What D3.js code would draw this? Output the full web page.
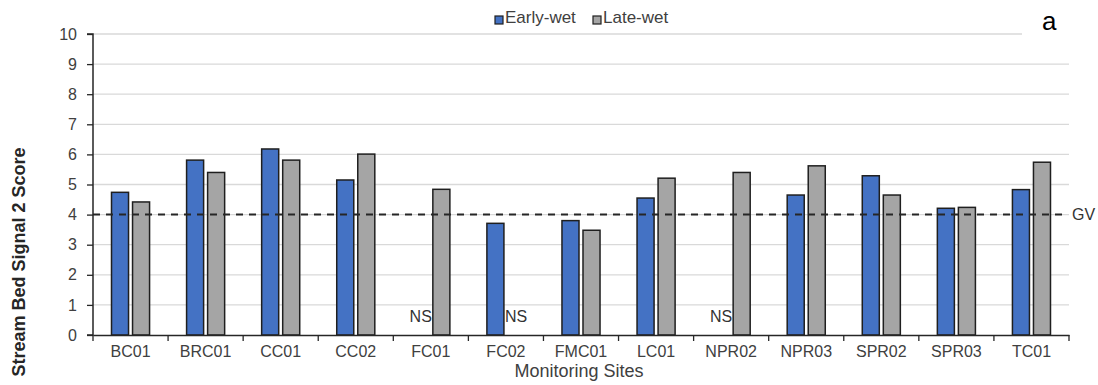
<!DOCTYPE html>
<html>
<head>
<meta charset="utf-8">
<script src="https://cdn.jsdelivr.net/npm/d3@7"></script>
<style>
  body { margin: 0; background: #fff; }
  svg { font-family: "Liberation Sans", Arial, sans-serif; }
</style>
</head>
<body>
<script>
// chart data
var sites = ["BC01", "BRC01", "CC01", "CC02", "FC01", "FC02", "FMC01", "LC01", "NPR02", "NPR03", "SPR02", "SPR03", "TC01"];
var earlyWet = [4.74, 5.81, 6.18, 5.15, null, 3.71, 3.80, 4.55, null, 4.65, 5.29, 4.21, 4.83];
var lateWet = [4.42, 5.40, 5.81, 6.01, 4.84, null, 3.48, 5.21, 5.40, 5.62, 4.65, 4.24, 5.74];
var seriesNames = ["Early-wet", "Late-wet"];
var seriesColors = ["#4472C4", "#A5A5A5"];
var yTicks = [0, 1, 2, 3, 4, 5, 6, 7, 8, 9, 10];
var guideValue = 4;

var W = 1098, H = 385;
var plotLeft = 93, plotRight = 1069, plotTop = 34, plotBottom = 335;

var svg = d3.select("body").append("svg").attr("width", W).attr("height", H);

var x = d3.scaleBand().domain(sites).range([plotLeft, plotRight]).padding(0);
var xi = d3.scaleBand().domain(seriesNames).range([0, x.bandwidth()])
  .paddingInner(0.19).paddingOuter(0.88);
var y = d3.scaleLinear().domain([0, 10]).range([plotBottom, plotTop]);

// gridlines
svg.append("g").selectAll("line").data(yTicks.filter(function (d) { return d > 0; }))
  .enter().append("line")
  .attr("x1", plotLeft).attr("x2", function (d) { return d === 10 ? 1022 : plotRight; })
  .attr("y1", function (d) { return y(d); }).attr("y2", function (d) { return y(d); })
  .style("stroke", "#d9d9d9").style("stroke-width", 1.3);

// bars
var rows = sites.map(function (s, i) {
  return { site: s, vals: [earlyWet[i], lateWet[i]] };
});
var grp = svg.append("g").selectAll("g").data(rows).enter().append("g")
  .attr("transform", function (d) { return "translate(" + x(d.site) + ",0)"; });

grp.selectAll("rect").data(function (d) {
  return d.vals.map(function (v, k) { return { k: k, v: v }; }).filter(function (e) { return e.v !== null; });
}).enter().append("rect")
  .attr("x", function (d) { return xi(seriesNames[d.k]); })
  .attr("width", xi.bandwidth())
  .attr("y", function (d) { return y(d.v); })
  .attr("height", function (d) { return y(0) - y(d.v); })
  .style("fill", function (d) { return seriesColors[d.k]; })
  .style("stroke", "#1f1f1f").style("stroke-width", 1.5);

// NS labels for missing samples
grp.each(function (d) {
  var g = d3.select(this);
  d.vals.forEach(function (v, k) {
    if (v !== null) return;
    var t = g.append("text").attr("y", 322).text("NS")
      .style("font-size", "16px").style("fill", "#333");
    if (k === 0) {
      t.attr("x", xi(seriesNames[1]) - 1).attr("text-anchor", "end");
    } else {
      t.attr("x", xi(seriesNames[0]) + xi.bandwidth() + 1).attr("text-anchor", "start");
    }
  });
});

// axes
var yAxis = svg.append("g").attr("transform", "translate(" + plotLeft + ",0)")
  .call(d3.axisLeft(y).tickValues(yTicks).tickSize(6).tickPadding(10));
var xAxis = svg.append("g").attr("transform", "translate(0," + plotBottom + ")")
  .call(d3.axisBottom(x).tickSize(0).tickPadding(11));

// category separators on x axis
svg.append("g").selectAll("line").data(d3.range(sites.length + 1)).enter().append("line")
  .attr("x1", function (i) { return plotLeft + i * x.step(); })
  .attr("x2", function (i) { return plotLeft + i * x.step(); })
  .attr("y1", plotBottom).attr("y2", plotBottom + 6)
  .style("stroke", "#262626").style("stroke-width", 1.3);

d3.selectAll(".domain").style("stroke", "#262626").style("stroke-width", 1.5);
yAxis.selectAll(".tick line").style("stroke", "#262626").style("stroke-width", 1.3);
yAxis.select(".domain").attr("d", "M-6," + plotTop + "H0V" + plotBottom + "H-6");
d3.selectAll(".tick text").style("font-size", "16px").style("fill", "#404040")
  .style("font-family", "'Liberation Sans', Arial, sans-serif");

// guide value line
svg.append("line")
  .attr("x1", plotLeft).attr("x2", plotRight - 2)
  .attr("y1", y(guideValue)).attr("y2", y(guideValue))
  .style("stroke", "#262626").style("stroke-width", 2).style("stroke-dasharray", "7 6");
svg.append("text").attr("x", 1072).attr("y", y(guideValue) + 5.5).text("GV")
  .style("font-size", "16px").style("fill", "#333");

// axis titles
svg.append("text").attr("x", (plotLeft + plotRight) / 2 - 2).attr("y", 377)
  .attr("text-anchor", "middle").text("Monitoring Sites")
  .style("font-size", "18px").style("fill", "#404040");
svg.append("text").attr("transform", "translate(25,262) rotate(-90)")
  .attr("text-anchor", "middle").text("Stream Bed Signal 2 Score")
  .style("font-size", "18px").style("font-weight", "bold").style("fill", "#262626");

// panel letter
svg.append("text").attr("x", 1042).attr("y", 30).text("a")
  .style("font-size", "26px").style("fill", "#000");

// legend
var legX = [495, 593];
var leg = svg.append("g").selectAll("g").data(seriesNames).enter().append("g")
  .attr("transform", function (d, i) { return "translate(" + legX[i] + ",0)"; });
leg.append("rect").attr("x", 0).attr("y", 16).attr("width", 8).attr("height", 8)
  .style("fill", function (d, i) { return seriesColors[i]; })
  .style("stroke", "#1f1f1f").style("stroke-width", 1.2);
leg.append("text").attr("x", 10).attr("y", 23).text(function (d) { return d; })
  .style("font-size", "17px").style("fill", "#404040");
</script>
</body>
</html>
